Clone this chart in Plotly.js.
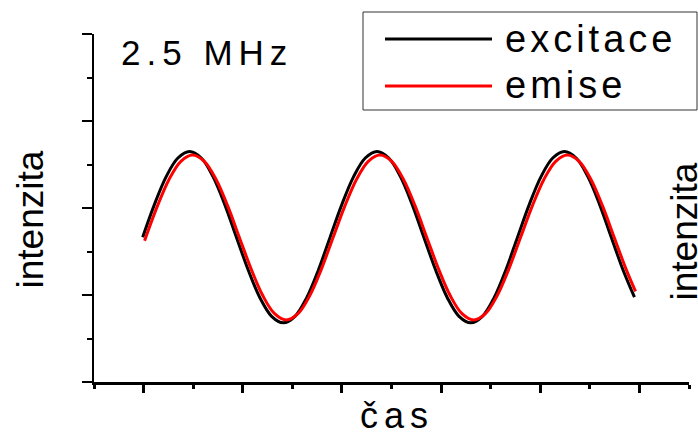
<!DOCTYPE html>
<html>
<head>
<meta charset="utf-8">
<script src="https://cdn.plot.ly/plotly-3.0.1.min.js"></script>
<style>
html,body{margin:0;padding:0;background:#fff;}
#chart{width:698px;height:433px;}
</style>
</head>
<body>
<div id="chart"></div>
<script>
// Data (arbitrary time units, arbitrary intensity units)
const seriesNames = ["excitace", "emise"];
const excitaceX = [-0.009, 0.110, 0.228, 0.346, 0.464, 0.582, 0.700, 0.818, 0.936, 1.055, 1.173, 1.291, 1.409, 1.527, 1.645, 1.763, 1.881, 2.000, 2.118, 2.236, 2.354, 2.472, 2.590, 2.708, 2.826, 2.945, 3.063, 3.181, 3.299, 3.417, 3.535, 3.653, 3.771, 3.890, 4.008, 4.126, 4.244, 4.362, 4.480, 4.598, 4.716, 4.835, 4.950];
const excitaceY = [1.665, 2.042, 2.361, 2.575, 2.650, 2.575, 2.361, 2.042, 1.665, 1.288, 0.969, 0.755, 0.680, 0.755, 0.969, 1.288, 1.665, 2.042, 2.361, 2.575, 2.650, 2.575, 2.361, 2.042, 1.665, 1.288, 0.969, 0.755, 0.680, 0.755, 0.969, 1.288, 1.665, 2.042, 2.361, 2.575, 2.650, 2.575, 2.361, 2.042, 1.665, 1.288, 0.975];
const emiseX = [0.010, 0.140, 0.258, 0.376, 0.494, 0.612, 0.730, 0.848, 0.966, 1.085, 1.203, 1.321, 1.439, 1.557, 1.675, 1.793, 1.911, 2.030, 2.148, 2.266, 2.384, 2.502, 2.620, 2.738, 2.856, 2.975, 3.093, 3.211, 3.329, 3.447, 3.565, 3.683, 3.801, 3.920, 4.038, 4.156, 4.274, 4.392, 4.510, 4.628, 4.746, 4.865, 4.961];
const emiseY = [1.625, 2.024, 2.331, 2.537, 2.609, 2.537, 2.331, 2.024, 1.661, 1.298, 0.991, 0.785, 0.713, 0.785, 0.991, 1.298, 1.661, 2.024, 2.331, 2.537, 2.609, 2.537, 2.331, 2.024, 1.661, 1.298, 0.991, 0.785, 0.713, 0.785, 0.991, 1.298, 1.661, 2.024, 2.331, 2.537, 2.609, 2.537, 2.331, 2.024, 1.661, 1.298, 1.041];
const frequencyLabel = "2.5 MHz";
const xTitle = "čas";
const yTitle = "intenzita";

const FONT = "Liberation Sans, Arial, sans-serif";

const traces = [
  {x: excitaceX, y: excitaceY, name: seriesNames[0], type: "scatter", mode: "lines",
   line: {color: "#000000", width: 3, shape: "spline", smoothing: 1}},
  {x: emiseX, y: emiseY, name: seriesNames[1], type: "scatter", mode: "lines",
   line: {color: "#ff0000", width: 3, shape: "spline", smoothing: 1}}
];

// paper coordinate helpers (plot area: x 94..689, y 34..382 px)
const px = v => (v - 94) / 595;
const py = v => (382 - v) / 348;

const layout = {
  width: 698, height: 433,
  margin: {l: 94, r: 9, t: 34, b: 51, pad: 0},
  paper_bgcolor: "#ffffff", plot_bgcolor: "#ffffff",
  showlegend: false,
  font: {family: FONT, color: "#000000"},
  xaxis: {
    range: [-0.5, 5.5], showline: true, linecolor: "#000", linewidth: 3,
    showgrid: false, zeroline: false, showticklabels: false,
    ticks: "outside", tick0: 0, dtick: 1, ticklen: 8, tickwidth: 3, tickcolor: "#000",
    minor: {ticks: "outside", tick0: 0, dtick: 0.5, ticklen: 4, tickwidth: 3, tickcolor: "#000", showgrid: false}
  },
  yaxis: {
    range: [0, 4], showline: true, linecolor: "#000", linewidth: 2,
    showgrid: false, zeroline: false, showticklabels: false,
    ticks: "outside", tick0: 0, dtick: 1, ticklen: 10, tickwidth: 2, tickcolor: "#000",
    minor: {ticks: "outside", tick0: 0, dtick: 0.5, ticklen: 5, tickwidth: 2, tickcolor: "#000", showgrid: false}
  },
  shapes: [
    {type: "rect", xref: "paper", yref: "paper", x0: px(363), x1: px(697), y0: py(110), y1: py(12),
     line: {color: "#333333", width: 1}, fillcolor: "rgba(0,0,0,0)"},
    {type: "line", xref: "paper", yref: "paper", x0: px(385), x1: px(492), y0: py(39), y1: py(39),
     line: {color: "#000000", width: 3}},
    {type: "line", xref: "paper", yref: "paper", x0: px(385), x1: px(492), y0: py(86), y1: py(86),
     line: {color: "#ff0000", width: 3}}
  ],
  annotations: [
    {text: frequencyLabel, xref: "paper", yref: "paper", x: px(119), y: py(52.9), xanchor: "left", yanchor: "middle",
     showarrow: false, font: {family: FONT, size: 35, color: "#000"}},
    {text: seriesNames[0], xref: "paper", yref: "paper", x: px(503), y: py(39), xanchor: "left", yanchor: "middle",
     showarrow: false, font: {family: FONT, size: 38, color: "#000"}},
    {text: seriesNames[1], xref: "paper", yref: "paper", x: px(503), y: py(85), xanchor: "left", yanchor: "middle",
     showarrow: false, font: {family: FONT, size: 38, color: "#000"}},
    {text: xTitle, xref: "paper", yref: "paper", x: px(358), y: py(415.5), xanchor: "left", yanchor: "middle",
     showarrow: false, font: {family: FONT, size: 36, color: "#000"}},
    {text: yTitle, xref: "paper", yref: "paper", x: px(29.5), y: py(220), xanchor: "center", yanchor: "middle",
     textangle: -90, showarrow: false, font: {family: FONT, size: 37, color: "#000"}},
    {text: yTitle, xref: "paper", yref: "paper", x: px(683.5), y: py(232), xanchor: "center", yanchor: "middle",
     textangle: -90, showarrow: false, font: {family: FONT, size: 37, color: "#000"}}
  ]
};

// letter spacing (px) per annotation index, as the reference text is spaced out
const spacing = {"0": 6, "1": 4, "2": 4, "3": 6};

Plotly.newPlot("chart", traces, layout, {displayModeBar: false, staticPlot: true}).then(gd => {
  gd.querySelectorAll("g.annotation").forEach(g => {
    const idx = g.getAttribute("data-index");
    const t = g.querySelector("text.annotation-text");
    const s = spacing[idx];
    if (t && s) {
      t.style.letterSpacing = s + "px";
      const n = t.textContent.length;
      const shift = n * s / 2;
      const prev = t.getAttribute("transform") || "";
      t.setAttribute("transform", prev + " translate(" + shift + ",0)");
    }
  });
});
</script>
</body>
</html>
